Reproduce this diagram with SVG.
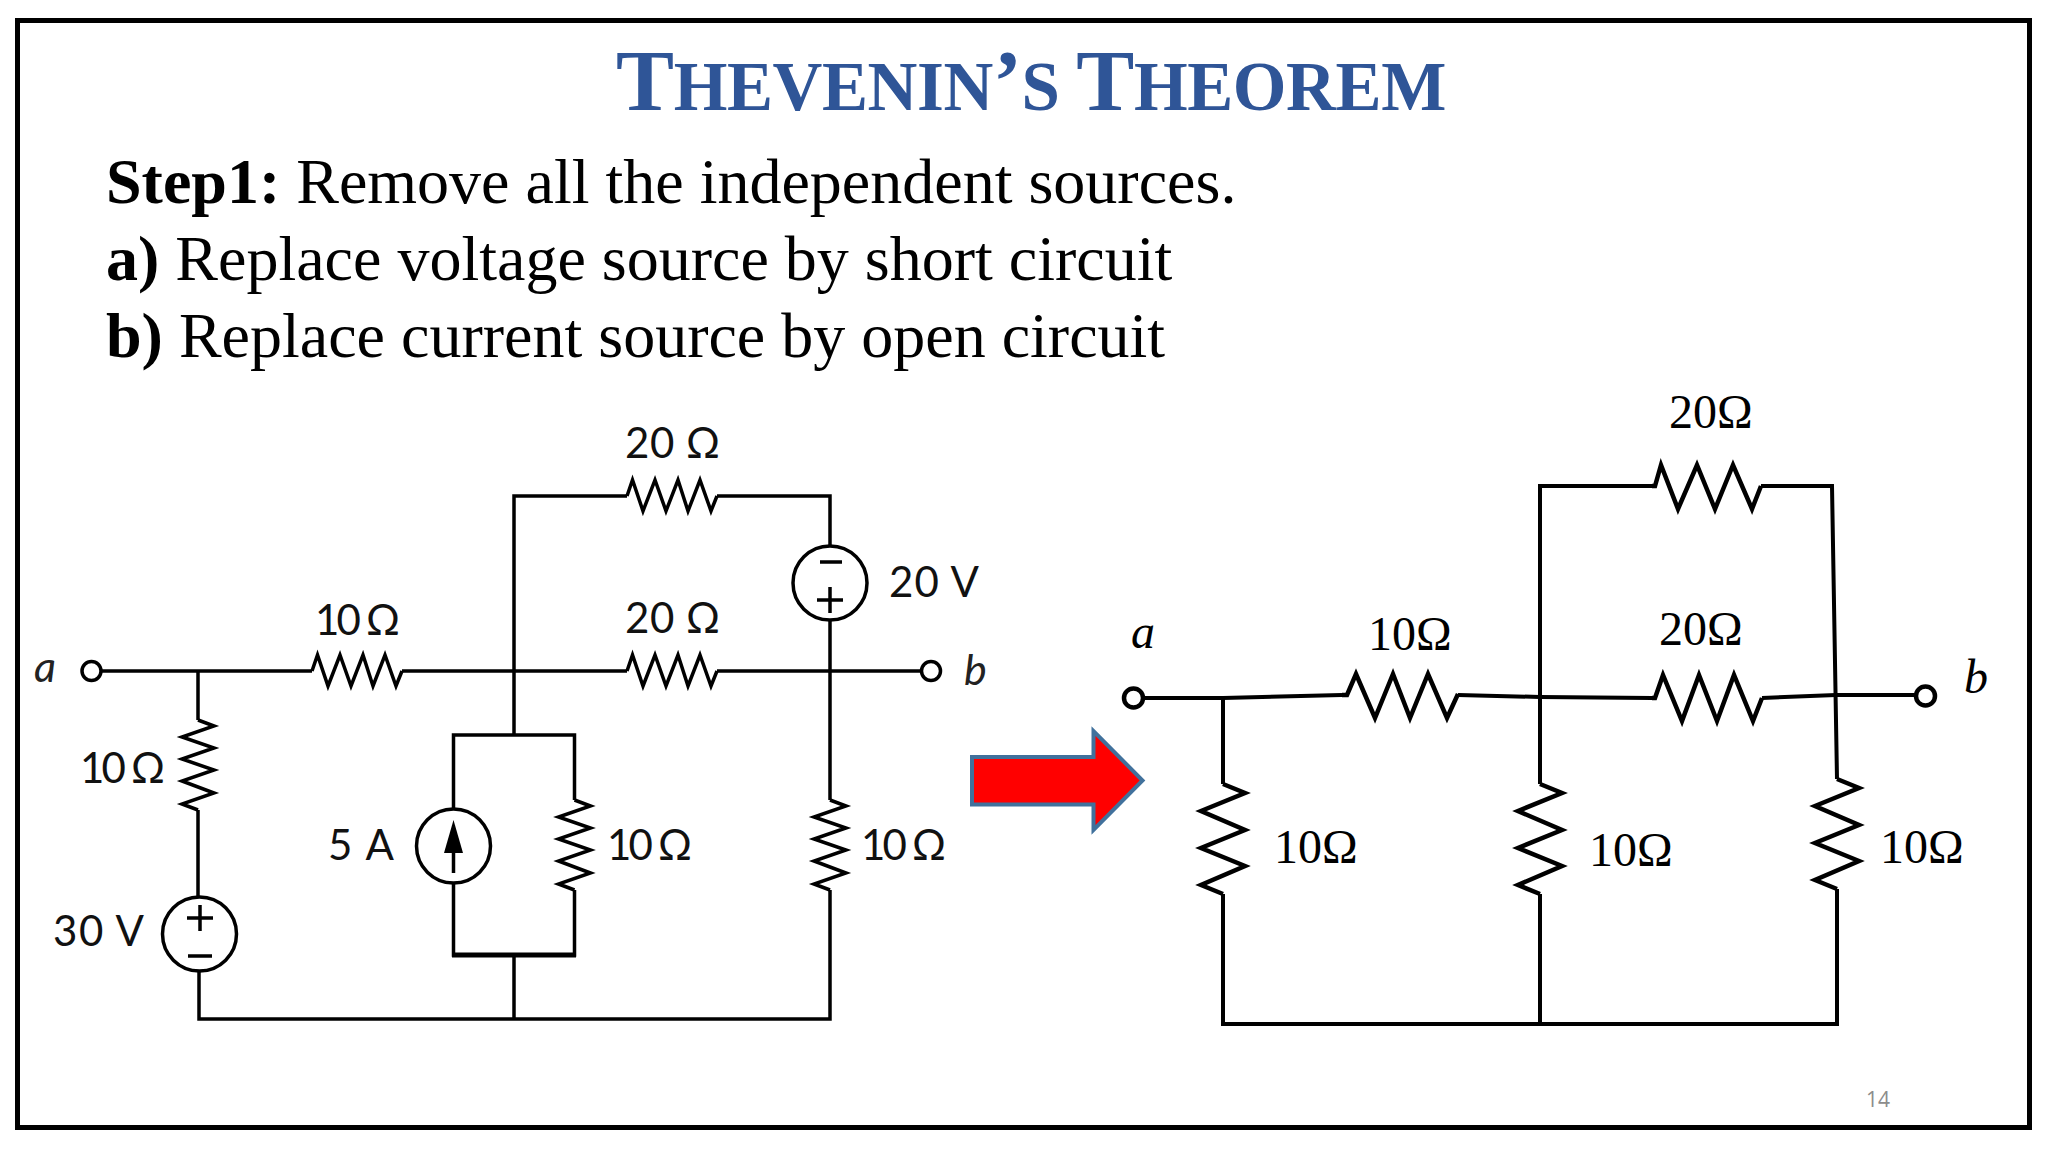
<svg xmlns="http://www.w3.org/2000/svg" width="2048" height="1152" viewBox="0 0 2048 1152">
<style>
.w{fill:none;stroke:#000;stroke-width:3.5;stroke-linejoin:miter}
.w2{fill:none;stroke:#000;stroke-width:4;stroke-linejoin:miter}
.c{fill:#fff;stroke:#000;stroke-width:3.5}
.c2{fill:#fff;stroke:#000;stroke-width:4.500}
.r{fill:none;stroke:#000;stroke-width:4.500;stroke-linejoin:miter}
.sf{font-family:"Lato","Open Sans",sans-serif;font-size:42px;fill:#111}
.si{font-family:"Lato","Open Sans",sans-serif;font-style:italic;font-size:43px;fill:#222}
.tn{font-family:"Liberation Serif",serif;font-size:48px;fill:#000}
.ti{font-family:"Liberation Serif",serif;font-style:italic;font-size:48px;fill:#000}
.b{font-family:"Liberation Serif",serif;font-size:64px;fill:#000}
.h{font-family:"Liberation Serif",serif;font-weight:700;fill:#2F5597;letter-spacing:-.4px}
</style>
<defs>
<path id="rh" d="M0 0L5.500 -16L16 15L28 -16L39 15L51 -16L61 15L73 -16L84 15L90 0" class="w"/>
<path id="rv" d="M0 0L16 6L-16 17L16 28L-16 39L16 50L-16 61L16 73L-16 84L0 90" class="w"/>
<path id="zv" d="M0 0L22 9L-22 27L22 46L-22 64L22 82L-22 101L0 110" class="r"/>
</defs>
<rect width="2048" height="1152" fill="#fff"/>
<rect x="17.500" y="20.500" width="2012" height="1107" fill="none" stroke="#000" stroke-width="5"/>
<g id="title"><text class="h" x="616" y="110"><tspan font-size="87">T</tspan><tspan font-size="69">HEVENIN</tspan><tspan font-size="87">’</tspan><tspan font-size="69">S </tspan><tspan font-size="87">T</tspan><tspan font-size="69">HEOREM</tspan></text></g>
<g id="body">
<text class="b" x="106" y="203"><tspan font-weight="700">Step1:</tspan> Remove all the independent sources.</text>
<text class="b" x="106" y="280"><tspan font-weight="700">a)</tspan> Replace voltage source by short circuit</text>
<text class="b" x="106" y="357"><tspan font-weight="700">b)</tspan> Replace current source by open circuit</text>
</g>
<g id="connectors-left">
<path class="w" d="M101 671H312M402 671H627M717 671H921"/>
<path class="w" d="M198 671V720M198 810V898M199 971V1019H830V890M830 620V800M830 546V496H717M627 496H514V735M514 955V1019"/>
<path class="w" d="M453.500 809V735H574.500V800M574.500 890V955H453.500V883"/>
<path class="w" d="M452 955H576" style="stroke-width:5"/>
</g>
<g id="n-a-left"><circle class="c" cx="91.500" cy="671" r="9.500"/><text class="si" x="34" y="682">a</text></g>
<g id="n-b-left"><circle class="c" cx="931" cy="671" r="9.500"/><text class="si" x="964" y="685">b</text></g>
<g id="r-10-h"><use href="#rh" x="312" y="671"/><text class="sf" x="315" y="635" textLength="85">10 Ω</text></g>
<g id="r-20-mid"><use href="#rh" x="627" y="671"/><text class="sf" x="625" y="633" textLength="95">20 Ω</text></g>
<g id="r-20-top"><use href="#rh" x="627" y="496"/><text class="sf" x="625" y="458" textLength="95">20 Ω</text></g>
<g id="r-10-v1"><use href="#rv" x="198" y="720"/><text class="sf" x="80" y="783" textLength="85">10 Ω</text></g>
<g id="r-10-v2"><use href="#rv" x="574.500" y="800"/><text class="sf" x="607" y="860" textLength="85">10 Ω</text></g>
<g id="r-10-v3"><use href="#rv" x="830" y="800"/><text class="sf" x="861" y="860" textLength="85">10 Ω</text></g>
<g id="s-30v"><circle class="c" cx="199.500" cy="934" r="37"/><path class="w" d="M187 918H213M200 905V931M188 956H212"/><text class="sf" x="53" y="946" textLength="91">30 V</text></g>
<g id="s-20v"><circle class="c" cx="830" cy="583" r="37"/><path class="w" d="M820 562H842M817 600H843M830 587V613"/><text class="sf" x="889" y="597" textLength="90">20 V</text></g>
<g id="s-5a"><circle class="c" cx="453.500" cy="846" r="37"/><path class="w" d="M453.500 873V845"/><path d="M453.500 820L463 853H444Z" fill="#000"/><text class="sf" x="328" y="860" textLength="66">5 A</text></g>
<g id="arrow"><path d="M972 757H1093.500V731L1142.500 780.500L1093.500 830V804.500H972Z" fill="#f00" stroke="#41719C" stroke-width="4"/></g>
<g id="connectors-right">
<path class="w2" d="M1143 698L1223 698L1342 695M1458 695L1540 697L1652 698M1762 698L1836 695H1916"/>
<path class="w2" d="M1652 486H1540V784M1761 486H1832L1837 779M1223 698V784M1223 894V1024H1837V889M1540 894V1024"/>
</g>
<g id="n-a-right"><circle class="c2" cx="1133.500" cy="698" r="9.500"/><text class="ti" x="1131" y="648">a</text></g>
<g id="n-b-right"><circle class="c2" cx="1925.500" cy="696" r="9.500"/><text class="ti" x="1964" y="693">b</text></g>
<g id="r2-10-h"><path class="r" d="M1342 695H1347L1356 674L1375 718L1393 674L1410 718L1428 674L1447 718L1458 694"/><text class="tn" x="1368" y="650">10Ω</text></g>
<g id="r2-20-mid"><path class="r" d="M1652 698H1655L1663 675L1682 721L1699 675L1717 721L1734 675L1753 721L1762 698"/><text class="tn" x="1659" y="645">20Ω</text></g>
<g id="r2-20-top"><path class="r" d="M1652 486H1655L1661 465L1678 509L1697 465L1715 509L1733 465L1752 509L1761 486"/><text class="tn" x="1669" y="428">20Ω</text></g>
<g id="r2-10-v1"><use href="#zv" x="1223" y="784"/><text class="tn" x="1274" y="863">10Ω</text></g>
<g id="r2-10-v2"><use href="#zv" x="1540" y="784"/><text class="tn" x="1589" y="866">10Ω</text></g>
<g id="r2-10-v3"><use href="#zv" x="1837" y="779"/><text class="tn" x="1880" y="863">10Ω</text></g>
<g id="page"><text x="1866" y="1107" font-family="'Open Sans',sans-serif" font-size="21" fill="#8c8c8c">14</text></g>
</svg>
